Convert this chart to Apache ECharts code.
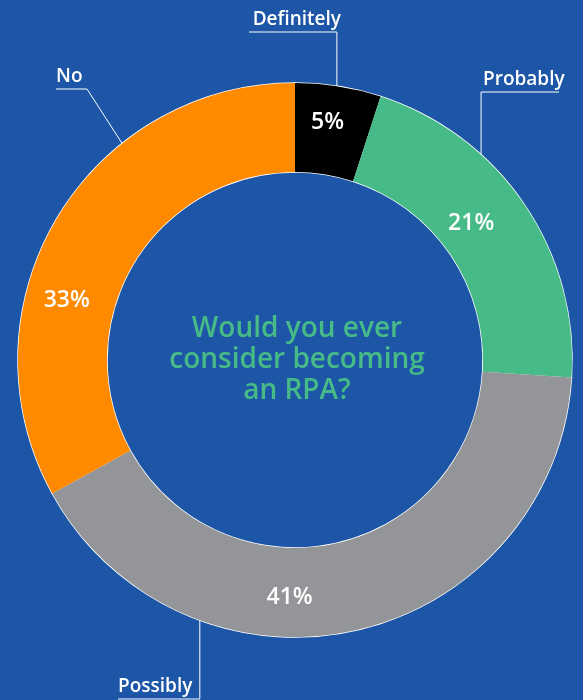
<!DOCTYPE html>
<html>
<head>
<meta charset="utf-8">
<script src="https://cdn.jsdelivr.net/npm/echarts@6/dist/echarts.min.js"></script>
<style>
    html, body {margin: 0; padding: 0; background: #1d56a6;}
    #rpa_pie {width: 583px; height: 700px;}
</style>
</head>
<body>
<div id="rpa_pie"></div>
<script>
// data
var answer_names = ['Definitely', 'Probably', 'Possibly', 'No'];
var answer_values = [5, 21, 41, 33];
var answer_colors = ['#000000', '#46bb88', '#939598', '#ff8a00'];
var center_question = ['Would you ever', 'consider becoming', 'an RPA?'];

// layout of the ring
var cx = 295, cy = 360, r_in = 188, r_out = 277;

// where the percent labels sit (angle from 12 o'clock, radius)
var pct_label_pos = [[7.8, 240], [52.2, 223], [181.3, 238], [284.7, 236]];
// leader lines: leave ring at angle, elbow y, underline end x, text align
var name_label_pos = [
    {angle: 8.7, elbowY: 32, endX: 249, align: 'right', textX: 341},
    {angle: 42.2, elbowY: 92, endX: 559, align: 'left', textX: 483},
    {angle: 200.1, elbowY: 699, endX: 118, align: 'left', textX: 118},
    {angle: 321.4, elbowY: 89, endX: 56, align: 'left', textX: 56, elbowX: 87}
];

function on_ring(angle, r) {
    var a = angle * Math.PI / 180;
    return [cx + r * Math.sin(a), cy - r * Math.cos(a)];
}

var pie_data = answer_names.map(function (n, i) {
    return {name: n, value: answer_values[i], itemStyle: {color: answer_colors[i]}};
});

var rpa_pie_dom = document.getElementById("rpa_pie");
var rpa_pie_chart = echarts.init(rpa_pie_dom);

rpa_pie_chart.setOption(
    {
        backgroundColor: '#1d56a6',
        animation: false,
        title: {
            text: center_question.join('\n'),
            left: cx - 3,
            top: 309,
            textAlign: 'center',
            textStyle: {
                color: '#46bb88',
                fontFamily: 'Open Sans',
                fontWeight: 600,
                fontSize: 28,
                lineHeight: 31
            }
        },
        series: [
            {
                name: 'ring',
                type: 'pie',
                center: [cx, cy],
                radius: [r_in, r_out],
                startAngle: 90,
                clockwise: true,
                itemStyle: {
                    borderColor: '#ffffff',
                    borderWidth: 1.5
                },
                label: {
                    position: 'inside',
                    formatter: '{c}%',
                    color: '#ffffff',
                    fontFamily: 'Open Sans',
                    fontWeight: 600,
                    fontSize: 23
                },
                labelLayout: function (params) {
                    var p = pct_label_pos[params.dataIndex];
                    var xy = on_ring(p[0], p[1]);
                    return {x: xy[0], y: xy[1], align: 'center', verticalAlign: 'middle'};
                },
                emphasis: {disabled: true},
                data: pie_data
            },
            {
                name: 'names',
                type: 'pie',
                silent: true,
                center: [cx, cy],
                radius: [r_in, r_out],
                startAngle: 90,
                clockwise: true,
                itemStyle: {
                    color: 'transparent',
                    borderWidth: 0
                },
                label: {
                    position: 'outside',
                    formatter: '{b}',
                    overflow: 'none',
                    color: '#ffffff',
                    fontFamily: 'Open Sans',
                    fontWeight: 600,
                    fontSize: 19
                },
                labelLine: {
                    show: true,
                    lineStyle: {color: '#ffffff', width: 1}
                },
                labelLayout: function (params) {
                    var p = name_label_pos[params.dataIndex];
                    var start = on_ring(p.angle, r_out);
                    var elbow = [p.elbowX !== undefined ? p.elbowX : start[0], p.elbowY];
                    return {
                        x: p.textX,
                        y: p.elbowY - 3,
                        align: p.align,
                        verticalAlign: 'bottom',
                        labelLinePoints: [start, elbow, [p.endX, p.elbowY]]
                    };
                },
                data: pie_data
            }
        ]
    }
);
</script>
</body>
</html>
